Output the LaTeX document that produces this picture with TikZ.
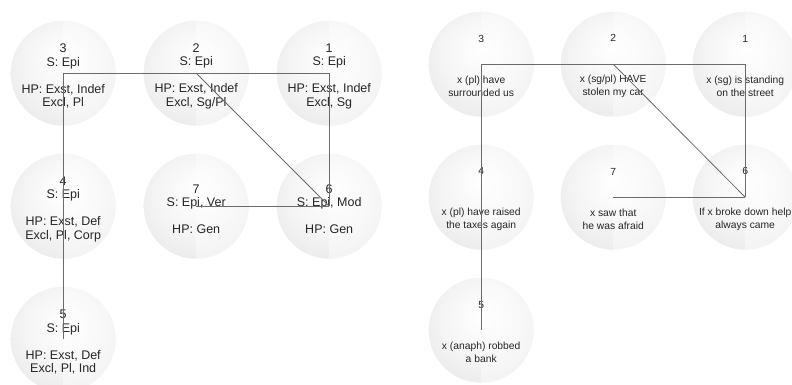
\documentclass[tikz,border=0pt]{standalone}
\usepackage{fontspec}
\setmainfont{Liberation Sans}
\usetikzlibrary{matrix}
\usetikzlibrary{positioning}

% soft sphere fill for the readings
\pgfdeclareradialshading{glassball}{\pgfpoint{0bp}{8bp}}{%
  color(0bp)=(white); color(18bp)=(white!96!black); color(40bp)=(white!89!black); color(50bp)=(white!82!black)}

\begin{document}
\begin{tikzpicture}[x=1pt, y=1pt]

    % TikZ styles for drawing %%%%%%%%%%%%%%%%%%%%%%%%%%%%%%%%%%%%%%%%%%%%%%%%%%%%%%
    \tikzstyle{ball} = [circle,inner sep=0pt,minimum size=105pt,shading=glassball,
      path picture={\fill[white,opacity=0.4] (path picture bounding box.north) rectangle (path picture bounding box.south east);}]
    \tikzstyle{feats} = [align=center,inner sep=0pt,yshift=-3pt,text=black!85,font=\fontsize{12.5}{13.5}\selectfont]
    \tikzstyle{sents} = [align=center,inner sep=0pt,yshift=-2pt,text=black!85,font=\fontsize{10.3}{13.5}\selectfont]
    \tikzstyle{link} = [draw=black!58,line width=0.8pt]

    \useasboundingbox (0,0) rectangle (792,-385);

    % Features of the readings (3x3 array) %%%%%%%%%%%%%%%%%%%%%%%%%%%%%%%%%%%%%%%%%%%%%
    \matrix[ampersand replacement=\&, row sep=28pt, column sep=28pt, inner sep=0pt, anchor=north west] at (10.5,-20.5) {

      % row 1
      \node[ball, label={[feats, name=l3t]center:{3\\S: Epi\\[13.5pt]HP: Exst, Indef\\Excl, Pl}}] (l3) {}; \&
      \node[ball, label={[feats, name=l2t]center:{2\\S: Epi\\[13.5pt]HP: Exst, Indef\\Excl, Sg/Pl}}] (l2) {}; \&
      \node[ball, label={[feats, name=l1t]center:{1\\S: Epi\\[13.5pt]HP: Exst, Indef\\Excl, Sg}}] (l1) {};
      \\

      % row 2
      \node[ball, label={[feats, name=l4t]center:{4\\S: Epi\\[13.5pt]HP: Exst, Def\\Excl, Pl, Corp}}] (l4) {}; \&
      \node[ball, label={[feats, name=l7t]center:{7\\S: Epi, Ver\\[13.5pt]HP: Gen}}] (l7) {}; \&
      \node[ball, label={[feats, name=l6t]center:{6\\S: Epi, Mod\\[13.5pt]HP: Gen}}] (l6) {};
      \\

      % row 3
      \node[ball, label={[feats, name=l5t]center:{5\\S: Epi\\[13.5pt]HP: Exst, Def\\Excl, Pl, Ind}}] (l5) {}; \&
      \&
      \\
    };

    % Example sentences (3x3 array) %%%%%%%%%%%%%%%%%%%%%%%%%%%%%%%%%%%%%%%%%%%%%%%%%%%%
    \matrix[ampersand replacement=\&, row sep=28pt, column sep=27pt, inner sep=0pt, anchor=north west] at (428.5,-11.5) {

      % row 1
      \node[ball, label={[sents, name=r3t]center:{3\\[27pt]x (pl) have\\surrounded us}}] (r3) {}; \&
      \node[ball, label={[sents, name=r2t]center:{2\\[27pt]x (sg/pl) HAVE\\stolen my car}}] (r2) {}; \&
      \node[ball, label={[sents, name=r1t]center:{1\\[27pt]x (sg) is standing\\on the street}}] (r1) {};
      \\

      % row 2
      \node[ball, label={[sents, name=r4t]center:{4\\[27pt]x (pl) have raised\\the taxes again}}] (r4) {}; \&
      \node[ball, label={[sents, name=r7t]center:{7\\[27pt]x saw that\\he was afraid}}] (r7) {}; \&
      \node[ball, label={[sents, name=r6t]center:{6\\[27pt]If x broke down help\\always came}}] (r6) {};
      \\

      % row 3
      \node[ball, label={[sents, name=r5t]center:{5\\[27pt]x (anaph) robbed\\a bank}}] (r5) {}; \&
      \&
      \\
    };

    % Now link the nodes %%%%%%%%%%%%%%%%%%%%%%%%%%%%%%%%%%%%%%%%%%%%%%%%%%%%%%%%%%%%%%%%
    \draw [link] (l3.center) -- (l1.center);
    \draw [link] (l3.center) -- (l5.center);
    \draw [link] (l1.center) -- (l6.center);
    \draw [link] (l2.center) -- (l6.center);
    \draw [link] (l7.center) -- (l6.center);

    \draw [link] (r3.center) -- (r1.center);
    \draw [link] (r3.center) -- (r5.center);
    \draw [link] (r1.center) -- (r6.center);
    \draw [link] (r2.center) -- (r6.center);
    \draw [link] (r7.center) -- (r6.center);

\end{tikzpicture}
\end{document}
